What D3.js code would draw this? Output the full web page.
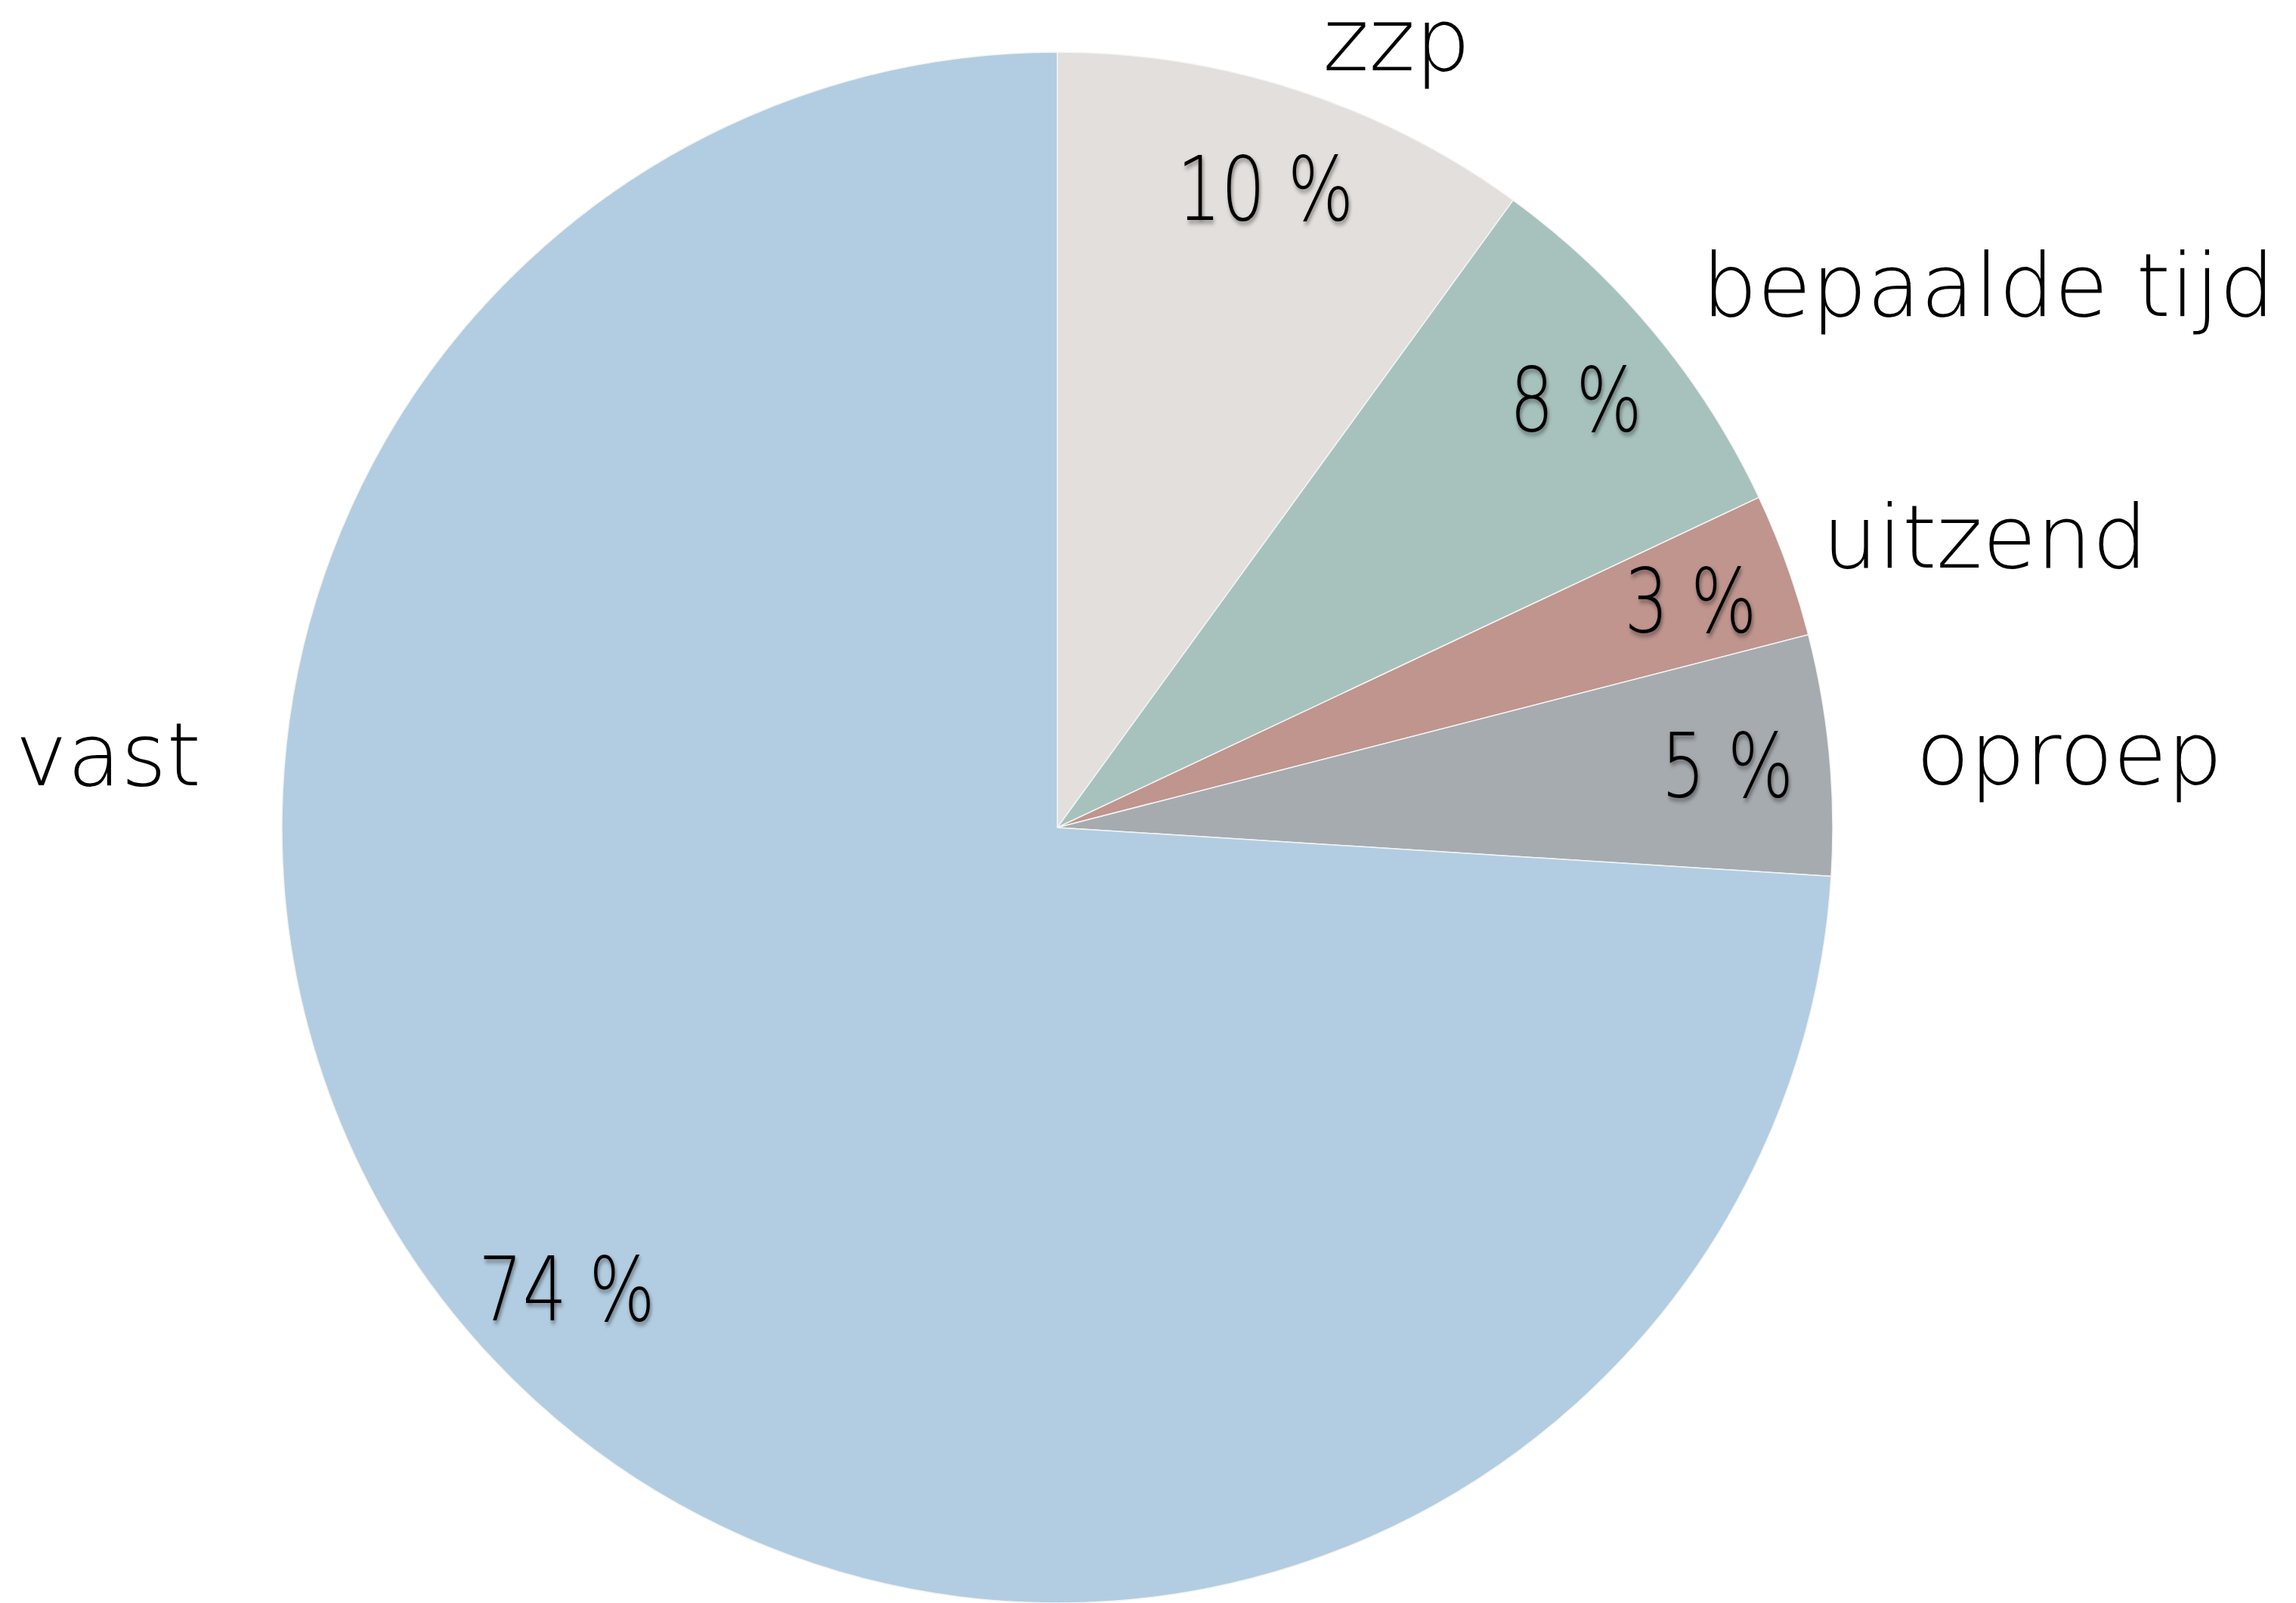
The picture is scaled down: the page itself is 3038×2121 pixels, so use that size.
<!DOCTYPE html>
<html>
<head>
<meta charset="utf-8">
<script src="https://cdn.jsdelivr.net/npm/d3@7"></script>
<style>
    body { margin: 0; background: #fff; }
    text { font-family: "DejaVu Sans", "Lato", sans-serif; font-weight: 200; fill: #000; }
</style>
</head>
<body>
<div id="chart"></div>
<script>
// data
var categories = ["zzp", "bepaalde tijd", "uitzend", "oproep", "vast"];
var shares = [10, 8, 3, 5, 74];
var pctLabels = ["10 %", "8 %", "3 %", "5 %", "74 %"];
var colors = ["#e3dfdc", "#a7c2bd", "#bf958e", "#a6abaf", "#b2cde1"];

// label layout: names sit around the pie (angle in degrees, radius as part of R)
var nameAngle = [23.5, 60.1, 73.0, 86.2, 274.0];
var nameRadius = [1.098, 1.385, 1.251, 1.308, 1.227];
var pctRadius = 0.868;

var width = 3038, height = 2121;
var cx = 1399, cy = 1095, R = 1026;

var svg = d3.select("#chart").append("svg")
    .attr("width", width)
    .attr("height", height);

var shadow = svg.append("defs").append("filter")
    .attr("id", "shadow")
    .attr("x", "-20%").attr("y", "-20%")
    .attr("width", "140%").attr("height", "140%");
shadow.append("feDropShadow")
    .attr("dx", 2).attr("dy", 4)
    .attr("stdDeviation", 3)
    .attr("flood-color", "#000")
    .attr("flood-opacity", 0.45);

var data = categories.map(function (c, i) {
    return { name: c, value: shares[i], pct: pctLabels[i], color: colors[i], i: i };
});

var pie = d3.pie()
    .sort(null)
    .value(function (d) { return d.value; });

var arc = d3.arc()
    .innerRadius(0)
    .outerRadius(R);

var g = svg.append("g")
    .attr("transform", "translate(" + cx + "," + cy + ")");

var arcs = pie(data);

g.selectAll("path")
    .data(arcs)
    .enter()
    .append("path")
    .attr("d", arc)
    .attr("fill", function (d) { return d.data.color; })
    .attr("stroke", "#f4f4f4")
    .attr("stroke-width", 1.5);

// percentages inside the slices
g.selectAll(".pct")
    .data(arcs)
    .enter()
    .append("text")
    .attr("class", "pct")
    .attr("transform", function (d) {
        var p = d3.pointRadial((d.startAngle + d.endAngle) / 2, R * pctRadius);
        return "translate(" + p[0] + "," + p[1] + ") scale(0.78,1)";
    })
    .attr("text-anchor", "middle")
    .attr("dy", "0.36em")
    .attr("font-size", 118)
    .attr("filter", "url(#shadow)")
    .text(function (d) { return d.data.pct; });

// category names outside
g.selectAll(".name")
    .data(arcs)
    .enter()
    .append("text")
    .attr("class", "name")
    .attr("transform", function (d) {
        var a = nameAngle[d.data.i] * Math.PI / 180;
        var p = d3.pointRadial(a, R * nameRadius[d.data.i]);
        return "translate(" + p[0] + "," + p[1] + ")";
    })
    .attr("text-anchor", "middle")
    .attr("dy", "0.27em")
    .attr("font-size", 116)
    .text(function (d) { return d.data.name; });
</script>
</body>
</html>
